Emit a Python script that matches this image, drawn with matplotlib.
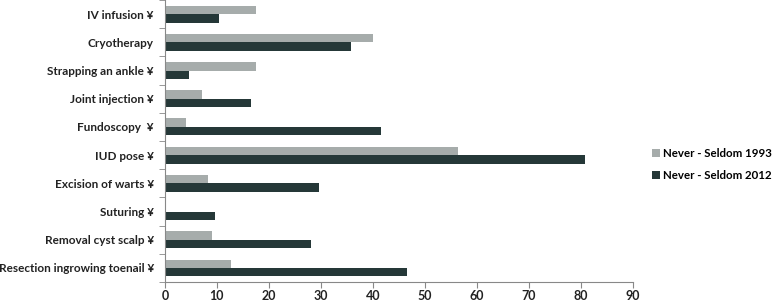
import matplotlib.pyplot as plt
import numpy as np

procedures = ["IV infusion \u00a5", "Cryotherapy", "Strapping an ankle \u00a5",
              "Joint injection \u00a5", "Fundoscopy  \u00a5", "IUD pose \u00a5",
              "Excision of warts \u00a5", "Suturing \u00a5", "Removal cyst scalp \u00a5",
              "Resection ingrowing toenail \u00a5"]
seldom_1993 = [17.5, 40.0, 17.5, 7.1, 4.0, 56.4, 8.3, 0.0, 9.1, 12.7]
seldom_2012 = [10.4, 35.8, 4.6, 16.6, 41.6, 80.9, 29.7, 9.6, 28.2, 46.6]
xticks = [0, 10, 20, 30, 40, 50, 60, 70, 80, 90]

plt.rcParams['font.family'] = ['Lato', 'DejaVu Sans']
plt.rcParams['font.weight'] = 'bold'

fig = plt.figure(figsize=(7.78, 3.02), dpi=100)
ax = fig.add_axes([0.212, 0.066, 0.601, 0.934])

y = np.arange(len(procedures))
h = 0.3
ax.barh(y - h / 2, seldom_1993, height=h, color='#a6acab', label='Never - Seldom 1993')
ax.barh(y + h / 2, seldom_2012, height=h, color='#253838', label='Never - Seldom 2012')

ax.set_ylim(len(procedures) - 0.5, -0.5)
ax.set_xlim(0, 90)
ax.set_xticks(xticks)
ax.set_yticks(y)
ax.set_yticklabels(procedures, fontsize=8.5, color='#222222')
ax.set_yticks(np.arange(-0.5, len(procedures), 1), minor=True)
ax.tick_params(axis='y', which='major', length=0, pad=8)
ax.tick_params(axis='y', which='minor', length=4, color='#888888')
ax.tick_params(axis='x', length=4, pad=1.5, color='#888888', labelsize=9, labelcolor='#222222')

for s in ['top', 'right']:
    ax.spines[s].set_visible(False)
for s in ['left', 'bottom']:
    ax.spines[s].set_color('#888888')

fig.legend(loc='center left', bbox_to_anchor=(0.838, 0.454), frameon=False,
           fontsize=8.3, handlelength=0.7, handleheight=0.7, handletextpad=0.25,
           labelspacing=0.95, borderpad=0, borderaxespad=0)

fig.savefig('out.png', dpi=100)
